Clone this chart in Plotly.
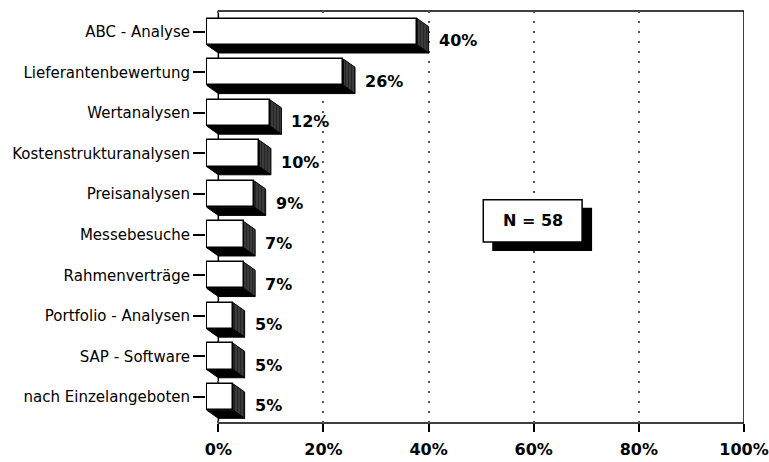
import plotly.graph_objects as go

# Procurement analysis methods and their share of mentions (N = 58)
categories = [
    "ABC - Analyse",
    "Lieferantenbewertung",
    "Wertanalysen",
    "Kostenstrukturanalysen",
    "Preisanalysen",
    "Messebesuche",
    "Rahmenverträge",
    "Portfolio - Analysen",
    "SAP - Software",
    "nach Einzelangeboten",
]
values = [40, 26, 12, 10, 9, 7, 7, 5, 5, 5]
x_ticks = [0, 20, 40, 60, 80, 100]
x_tick_labels = ["0%", "20%", "40%", "60%", "80%", "100%"]
sample_note = "N = 58"

# 3D bar geometry (depth offsets in axis units)
DX = 2.2      # horizontal depth, percent units
DY = 0.2      # vertical depth, category units
HALF = 0.325  # half thickness of the front face

rows = list(range(len(categories)))

# side faces, built as closed polygons in data coordinates
right_x, right_y, bottom_x, bottom_y = [], [], [], []
for i, v in zip(rows, values):
    right_x += [v - DX, v, v, v - DX, v - DX, None]
    right_y += [i - HALF, i - HALF + DY, i + HALF + DY, i + HALF, i - HALF, None]
    bottom_x += [-DX, v - DX, v, 0, -DX, None]
    bottom_y += [i + HALF, i + HALF, i + HALF + DY, i + HALF + DY, i + HALF, None]

fig = go.Figure()

# front faces of the bars
fig.add_trace(go.Bar(
    y=rows, x=values, base=-DX, orientation="h", width=2 * HALF,
    marker=dict(color="white", line=dict(color="black", width=1.5)),
    hoverinfo="skip", showlegend=False,
))

# right (hatched) faces
fig.add_trace(go.Scatter(
    x=right_x, y=right_y, mode="lines", fill="toself",
    line=dict(color="black", width=1),
    fillcolor="#222222",
    fillpattern=dict(shape="|", fgcolor="black", bgcolor="#4a4a4a", size=3, solidity=0.6),
    hoverinfo="skip", showlegend=False,
))

# bottom (solid) faces
fig.add_trace(go.Scatter(
    x=bottom_x, y=bottom_y, mode="lines", fill="toself",
    line=dict(color="black", width=1), fillcolor="black",
    hoverinfo="skip", showlegend=False,
))

# value labels
for i, v in zip(rows, values):
    fig.add_annotation(
        x=v, y=i + 0.22, text=f"{v}%", showarrow=False,
        xanchor="left", xshift=8,
        font=dict(family="DejaVu Sans", size=16, color="black", weight="bold"),
    )

# plot frame from 0% to 100%
fig.add_shape(type="rect", xref="x", yref="paper", x0=0, x1=100, y0=0, y1=1,
              line=dict(color="black", width=1.5), layer="below")

# sample-size box with drop shadow
fig.add_shape(type="rect", xref="x", yref="y", x0=52.1, x1=71.1, y0=4.34, y1=5.40,
              line=dict(color="black", width=0), fillcolor="black")
fig.add_shape(type="rect", xref="x", yref="y", x0=50.4, x1=69.2, y0=4.14, y1=5.18,
              line=dict(color="black", width=1.5), fillcolor="white")
fig.add_annotation(
    x=59.8, y=4.66, text=sample_note, showarrow=False,
    font=dict(family="DejaVu Sans", size=16, color="black", weight="bold"),
)

fig.update_layout(
    width=769, height=462,
    margin=dict(l=206, r=25, t=11, b=39),
    paper_bgcolor="white", plot_bgcolor="white",
    bargap=0,
    xaxis=dict(
        range=[-2.35, 100], automargin=False,
        tickmode="array", tickvals=x_ticks, ticktext=x_tick_labels,
        ticks="outside", ticklen=8, tickwidth=1.5, tickcolor="black",
        ticklabelstandoff=4,
        showline=False, zeroline=False,
        showgrid=True, gridcolor="#555555", gridwidth=1.5, griddash="2px,8px",
        tickfont=dict(family="DejaVu Sans", size=16, color="black", weight="bold"),
        fixedrange=True,
    ),
    yaxis=dict(
        range=[9.64, -0.51], automargin=False,
        tickmode="array", tickvals=rows, ticktext=categories,
        ticks="outside", ticklen=12, tickwidth=1.5, tickcolor="black",
        showline=False, zeroline=False, showgrid=False,
        tickfont=dict(family="DejaVu Sans", size=15, color="black"),
        fixedrange=True,
    ),
)

fig.write_html("out.html")
